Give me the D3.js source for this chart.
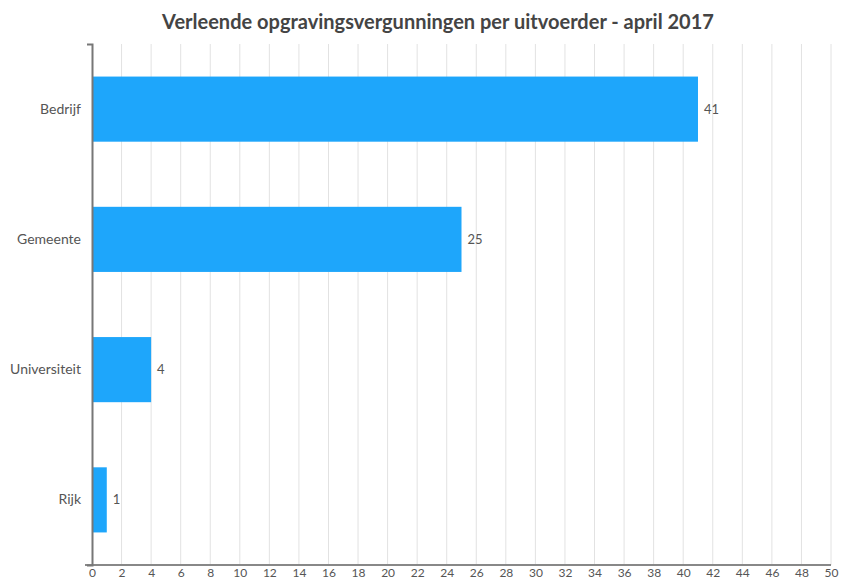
<!DOCTYPE html>
<html>
<head>
<meta charset="utf-8">
<script src="https://cdn.jsdelivr.net/npm/d3@7"></script>
<style>
  body { margin: 0; background: #fff; }
  svg { display: block; font-family: Lato, "Open Sans", sans-serif; }
</style>
</head>
<body>
<div id="chart"></div>
<script>
const categories = ['Bedrijf', 'Gemeente', 'Universiteit', 'Rijk'];
const values = [41, 25, 4, 1];
const xTicks = d3.range(0, 51, 2);
const title = 'Verleende opgravingsvergunningen per uitvoerder - april 2017';

const width = 842;
const height = 588;
const margin = { top: 44, right: 11, bottom: 23, left: 92 };
const innerWidth = width - margin.left - margin.right;
const innerHeight = height - margin.top - margin.bottom;

const svg = d3.select('#chart')
  .append('svg')
  .attr('width', width)
  .attr('height', height);

// Title
svg.append('text')
  .attr('x', 438)
  .attr('y', 29)
  .attr('text-anchor', 'middle')
  .attr('fill', '#444')
  .style('font-size', '20px')
  .style('font-weight', 'bold')
  .text(title);

const g = svg.append('g')
  .attr('transform', `translate(${margin.left},${margin.top})`);

const x = d3.scaleLinear().domain([0, 50]).range([0, innerWidth]);
const y = d3.scaleBand().domain(categories).range([0, innerHeight]).paddingInner(0.5).paddingOuter(0.25);

// Grid lines
g.append('g')
  .selectAll('line')
  .data(xTicks.filter(d => d > 0))
  .enter()
  .append('line')
  .attr('x1', d => x(d))
  .attr('x2', d => x(d))
  .attr('y1', 0)
  .attr('y2', innerHeight)
  .attr('stroke', '#e2e2e2')
  .attr('stroke-width', 1);

// Bars
g.selectAll('.bar')
  .data(values)
  .enter()
  .append('rect')
  .attr('class', 'bar')
  .attr('x', 0)
  .attr('y', (d, i) => y(categories[i]))
  .attr('width', d => x(d))
  .attr('height', y.bandwidth())
  .attr('fill', '#1ea6fb');

// Value labels
g.selectAll('.val')
  .data(values)
  .enter()
  .append('text')
  .attr('x', d => x(d) + 6)
  .attr('y', (d, i) => y(categories[i]) + y.bandwidth() / 2)
  .attr('dy', '0.35em')
  .attr('fill', '#555')
  .style('font-size', '13px')
  .text(d => d);

// X axis
g.append('g')
  .attr('transform', `translate(0,${innerHeight})`)
  .call(d3.axisBottom(x).tickValues(xTicks).tickSize(0).tickPadding(3))
  .call(a => a.select('.domain').attr('stroke', '#888').attr('stroke-width', 2)
    .attr('d', `M-7,0H${innerWidth}`))
  .call(a => a.selectAll('text').attr('fill', '#555').style('font-size', '12px').style('font-family', 'Lato, sans-serif'));

// Y axis
g.append('g')
  .call(d3.axisLeft(y).tickSize(0).tickPadding(11).tickSizeOuter(5))
  .call(a => a.select('.domain').attr('stroke', '#777').attr('stroke-width', 2))
  .call(a => a.selectAll('text').attr('fill', '#555').style('font-size', '14px').style('font-family', 'Lato, sans-serif'));
</script>
</body>
</html>
